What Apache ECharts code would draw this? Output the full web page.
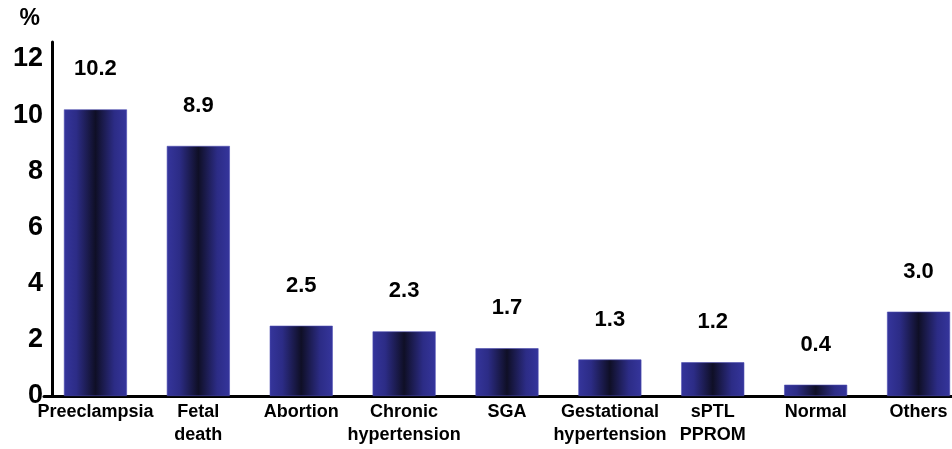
<!DOCTYPE html>
<html>
<head>
<meta charset="utf-8">
<script src="https://cdn.jsdelivr.net/npm/echarts@6/dist/echarts.min.js"></script>
<style>
  html, body { margin: 0; padding: 0; background: #fff; }
  #chart { width: 952px; height: 449px; }
</style>
</head>
<body>
<div id="chart"></div>
<script>
// Outcome categories and their rates (%)
const categories = [
  'Preeclampsia', 'Fetal\ndeath', 'Abortion', 'Chronic\nhypertension', 'SGA',
  'Gestational\nhypertension', 'sPTL\nPPROM', 'Normal', 'Others'
];
const rates = [10.2, 8.9, 2.5, 2.3, 1.7, 1.3, 1.2, 0.4, 3.0];
const yTicks = [0, 2, 4, 6, 8, 10, 12];

const font = '"Liberation Sans", Arial, sans-serif';

// Bars shade from blue at the edges to near-black in the middle
const barFill = new echarts.graphic.LinearGradient(0, 0, 1, 0, [
  { offset: 0, color: '#35359c' },
  { offset: 0.2, color: '#2c2c86' },
  { offset: 0.5, color: '#0f0f26' },
  { offset: 0.8, color: '#2c2c86' },
  { offset: 1, color: '#35359c' }
]);

const chart = echarts.init(document.getElementById('chart'), null, { renderer: 'canvas' });
chart.setOption({
  animation: false,
  backgroundColor: '#ffffff',
  grid: {
    left: 44, top: 42, bottom: 53, width: 926,
    containLabel: false, outerBoundsMode: 'none'
  },
  xAxis: {
    type: 'category',
    data: categories,
    axisLine: { lineStyle: { color: '#000', width: 3 } },
    axisTick: { show: false },
    axisLabel: {
      color: '#000', fontFamily: font, fontWeight: 'bold', fontSize: 18,
      lineHeight: 23, margin: 5, interval: 0, hideOverlap: false
    }
  },
  yAxis: {
    type: 'value',
    min: 0,
    max: 12.6,
    offset: -8,
    name: '%',
    nameLocation: 'end',
    nameGap: 12,
    nameTextStyle: {
      color: '#000', fontFamily: font, fontWeight: 'bold', fontSize: 23,
      align: 'right', padding: [0, 12, 0, 0]
    },
    splitLine: { show: false },
    axisLine: { show: true, lineStyle: { color: '#000', width: 3 } },
    axisTick: { show: false },
    axisLabel: {
      customValues: yTicks,
      color: '#000', fontFamily: font, fontWeight: 'bold', fontSize: 27, margin: 9
    }
  },
  series: [{
    type: 'bar',
    data: rates,
    barWidth: 63,
    itemStyle: { color: barFill, borderColor: '#4a4ab0', borderWidth: 0.6 },
    label: {
      show: true,
      position: 'top',
      distance: 29,
      formatter: p => p.value.toFixed(1),
      color: '#000', fontFamily: font, fontWeight: 'bold', fontSize: 22
    }
  }]
});
</script>
</body>
</html>
